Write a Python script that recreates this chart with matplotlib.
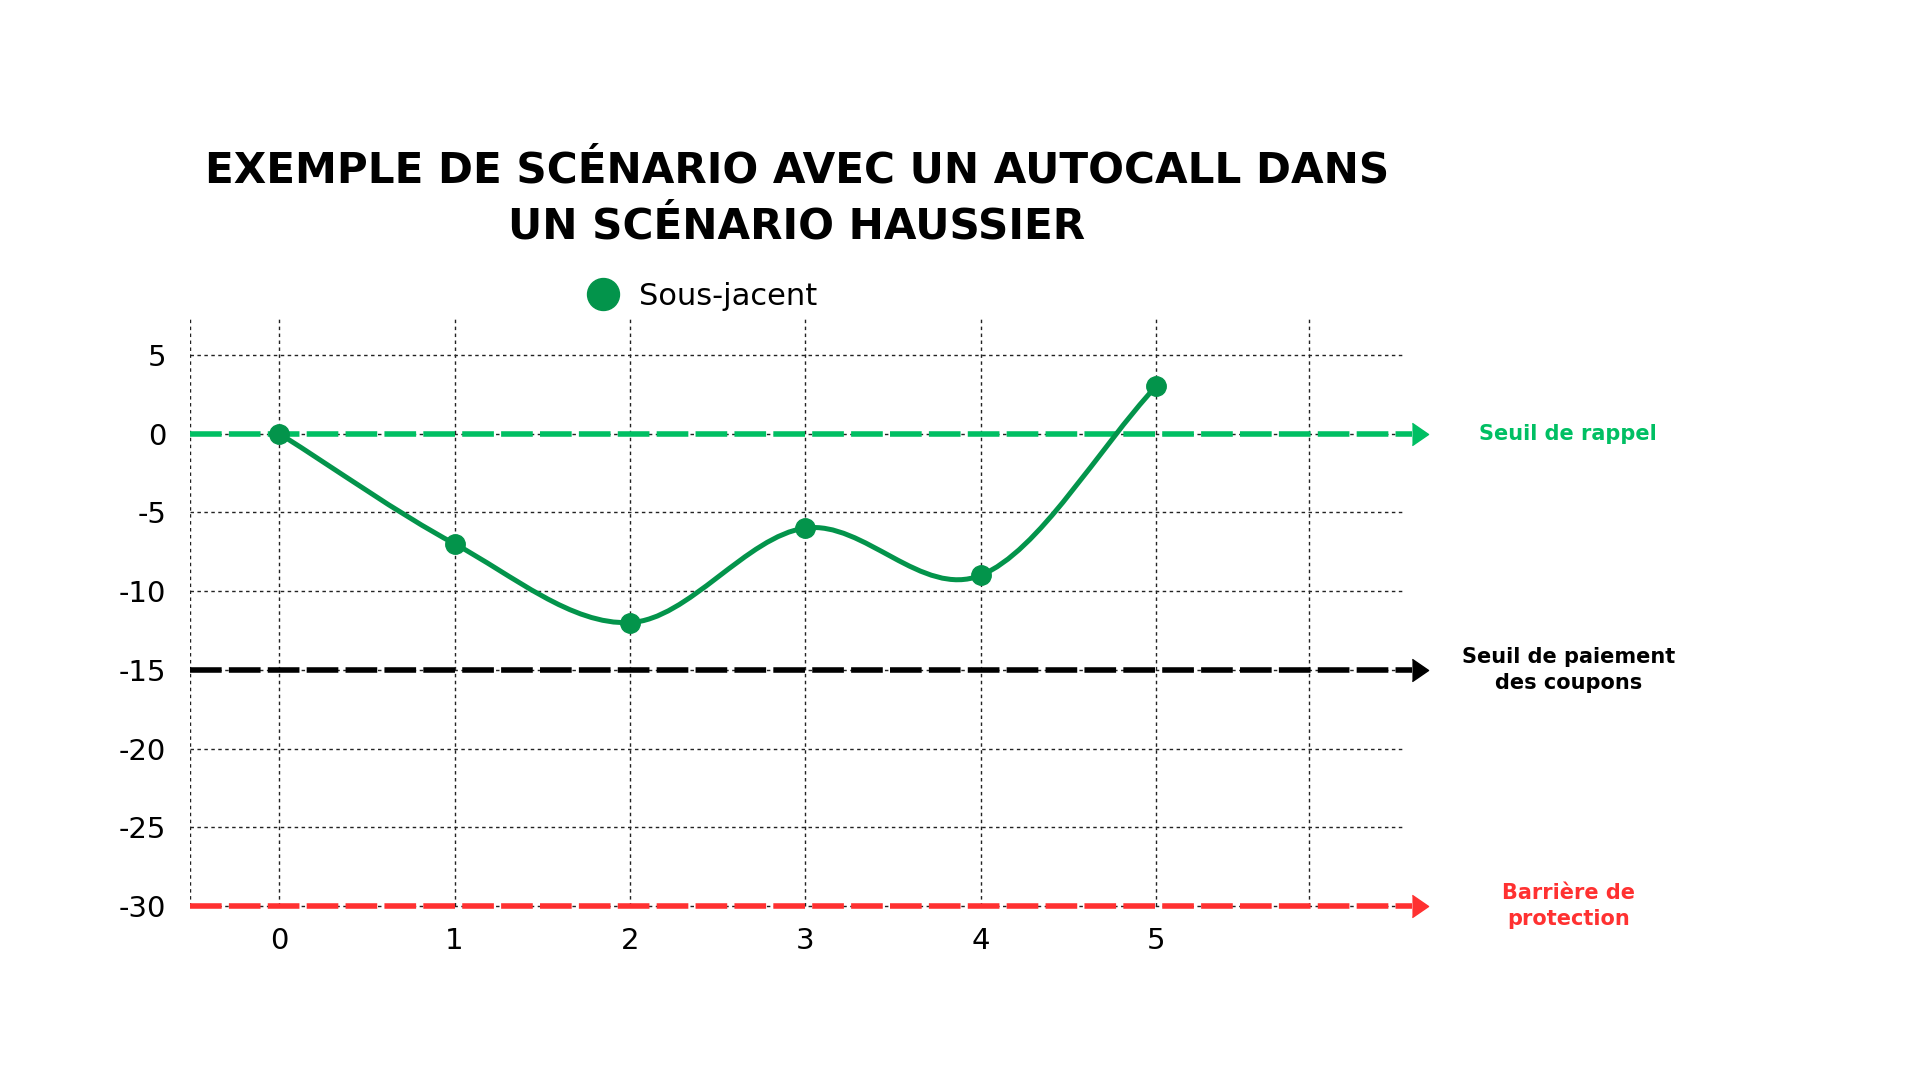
import matplotlib.pyplot as plt
import numpy as np
from matplotlib.path import Path
from matplotlib.patches import PathPatch
from matplotlib.lines import Line2D

# donnees du scenario
periodes = [0, 1, 2, 3, 4, 5]
sous_jacent = [0, -7, -12, -6, -9, 3]
y_ticks = [5, 0, -5, -10, -15, -20, -25, -30]
grille_y = [5, 0, -5, -10, -15, -20, -25, -30]
grille_x = [-0.51, 0, 1, 2, 3, 4, 5, 5.87]
seuils = [0, -15, -30]
seuils_labels = ['Seuil de rappel', 'Seuil de paiement\ndes coupons', 'Barrière de\nprotection']
seuils_couleurs = ['#00bf63', '#000000', '#ff3131']
titre = 'EXEMPLE DE SCÉNARIO AVEC UN AUTOCALL DANS\nUN SCÉNARIO HAUSSIER'

vert = '#03944b'

fig = plt.figure(figsize=(19.2, 10.8), dpi=100)
ax = fig.add_axes([0.0988, 0.1464, 0.644, 0.561])
ax.set_xlim(-0.51, 6.54)
ax.set_ylim(-31, 7.46)
for s in ax.spines.values():
    s.set_visible(False)

# grille pointillee
ax.hlines(grille_y, -0.51, 6.41, colors='#222222', linewidth=1, linestyles=(0, (2.5, 2.5)), zorder=1)
ax.vlines(grille_x, -30, 7.46, colors='#222222', linewidth=1, linestyles=(0, (2.5, 2.5)), zorder=1)

# seuils avec fleches
for y, lab, c in zip(seuils, seuils_labels, seuils_couleurs):
    ax.plot([-0.51, 6.46], [y, y], color=c, linewidth=4, dashes=(5.7, 1.3), zorder=2, clip_on=False)
    ax.plot([6.504], [y], marker=[(-0.4, -0.55), (0.4, 0), (-0.4, 0.55)], markersize=16,
            color=c, linestyle='none', clip_on=False, zorder=3)
    ax.text(7.35, y, lab, color=c, fontsize=15, fontweight='bold', ha='center', va='center',
            linespacing=1.4, clip_on=False)

# courbe lissee (catmull-rom -> bezier)
xs = np.array(periodes, dtype=float)
ys = np.array(sous_jacent, dtype=float)
m = np.zeros_like(ys)
m[1:-1] = (ys[2:] - ys[:-2]) / 2
m[0] = ys[1] - ys[0]
m[-1] = ys[-1] - ys[-2]
verts = [(xs[0], ys[0])]
codes = [Path.MOVETO]
for i in range(len(xs) - 1):
    dx = xs[i + 1] - xs[i]
    verts += [(xs[i] + dx / 3, ys[i] + m[i] / 3),
              (xs[i + 1] - dx / 3, ys[i + 1] - m[i + 1] / 3),
              (xs[i + 1], ys[i + 1])]
    codes += [Path.CURVE4] * 3
ax.add_patch(PathPatch(Path(verts, codes), facecolor='none', edgecolor=vert, linewidth=3.6, zorder=4))
ax.plot(periodes, sous_jacent, 'o', color=vert, markersize=14, zorder=5)

ax.set_xticks(periodes)
ax.set_xticklabels([str(p) for p in periodes])
ax.set_yticks(y_ticks)
ax.set_yticklabels([str(v) for v in y_ticks])
ax.tick_params(axis='both', length=0, labelsize=21, colors='#000000')
ax.tick_params(axis='y', pad=17)
ax.tick_params(axis='x', pad=4)

fig.text(0.415, 0.8162, titre, fontsize=30.3, fontweight='bold', ha='center', va='center', linespacing=1.42)

poignee = Line2D([], [], marker='o', color=vert, linestyle='none', markersize=23)
fig.legend(handles=[poignee], labels=['Sous-jacent'], loc='center left', bbox_to_anchor=(0.292, 0.7255),
           frameon=False, fontsize=22, handletextpad=0.65, handlelength=1.0)

plt.savefig('out.png', dpi=100)
